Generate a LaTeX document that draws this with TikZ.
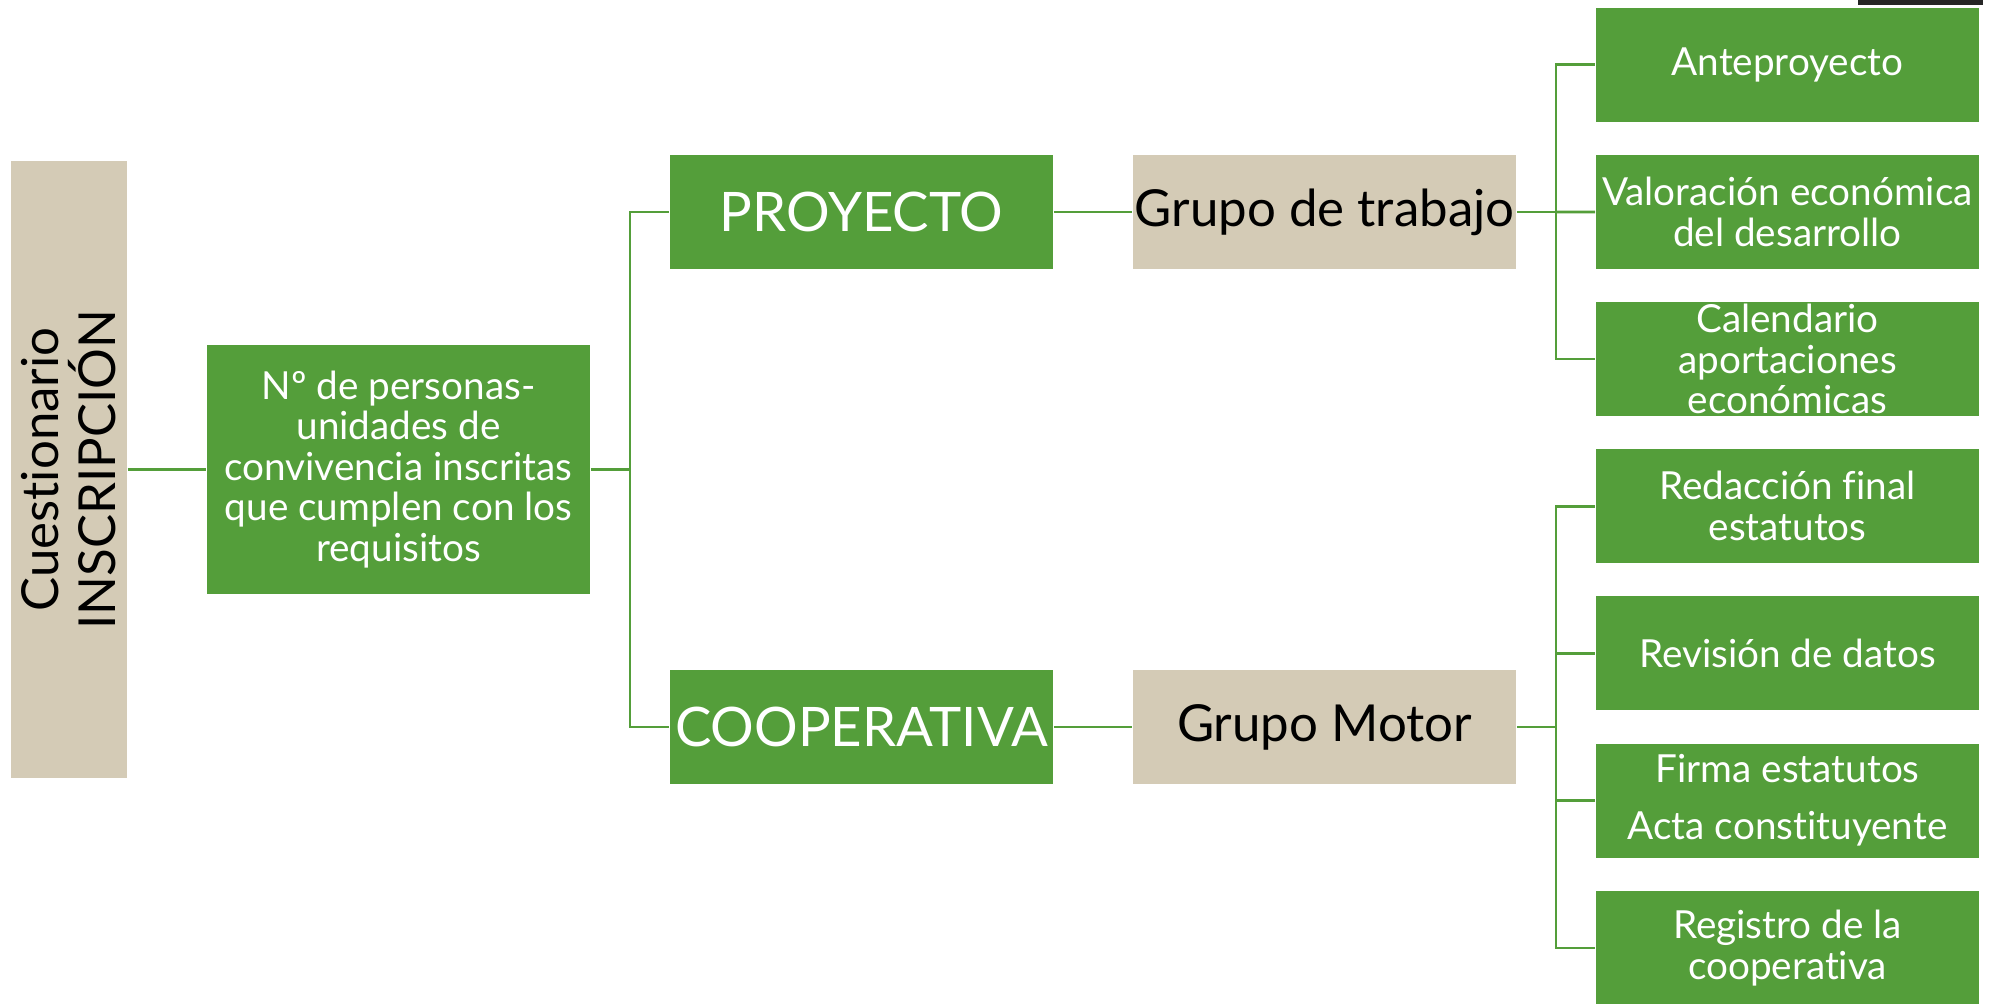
\documentclass[tikz,border=0pt]{standalone}
\usepackage{fontspec}
\setmainfont{Lato}[Ligatures=NoCommon]
\usepackage{tikz}
\usepackage{xcolor}
\definecolor{leaf}{RGB}{84,158,58}
\definecolor{sand}{RGB}{212,203,182}
\tikzset{
    green-box/.style = {fill=leaf, text=white, rectangle, inner sep=0pt, align=center, minimum width=3.83cm, minimum height=1.14cm},
    sand-box/.style = {fill=sand, text=black, rectangle, inner sep=0pt, align=center, minimum width=3.83cm, minimum height=1.14cm},
    big-text/.style = {font=\fontsize{14.5}{16}\selectfont},
    caps-text/.style = {font=\fontsize{15.5}{17}\selectfont},
    task-text/.style = {font=\fontsize{11}{11.6}\selectfont},
    link/.style = {draw=leaf, line width=0.75pt},
}
\begin{document}
\begin{tikzpicture}[x=0.01cm, y=-0.01cm]
\useasboundingbox (0,0) rectangle (1989,1003);
\fill[black!85] (1858,0) rectangle (1983,4.7);

\node[sand-box, minimum width=1.16cm, minimum height=6.17cm] (quest) at (69,469.5) {\rotatebox{90}{\parbox{4cm}{\centering\fontsize{14.5}{16.2}\selectfont\lineskiplimit=-10pt Cuestionario\\INSCRIPCIÓN}}};
\node[green-box, minimum height=2.49cm, font=\fontsize{11}{11.5}\selectfont] (count) at (398.5,469.5) {Nº de personas-\\unidades de\\convivencia inscritas\\que cumplen con los\\requisitos};

\node[green-box, caps-text] (proy) at (861.5,212) {PROYECTO};
\node[green-box, caps-text] (coop) at (861.5,727) {COOPERATIVA};
\node[sand-box, big-text] (gtrab) at (1324.5,212) {Grupo de trabajo};
\node[sand-box, big-text] (gmotor) at (1324.5,727) {Grupo Motor};

\node[green-box, task-text] (ante) at (1787.5,64.6) {Anteproyecto};
\node[green-box, task-text] (valor) at (1787.5,211.8) {Valoración económica\\del desarrollo};
\node[green-box, task-text] (calen) at (1787.5,359) {Calendario\\aportaciones\\económicas};
\node[green-box, task-text] (redac) at (1787.5,506.2) {Redacción final\\estatutos};
\node[green-box, task-text] (revis) at (1787.5,653.4) {Revisión de datos};
\node[green-box, task-text] (firma) at (1787.5,800.6) {Firma estatutos\\[4.6pt]Acta constituyente};
\node[green-box, task-text] (regis) at (1787.5,947.8) {Registro de la\\cooperativa};

\coordinate (fork-a) at (630,469.5);
\coordinate (fork-b) at (1556,212);
\coordinate (fork-c) at (1556,727);

\draw[link] (quest) -- (count);
\draw[link] (count) -- (fork-a);
\draw[link] (fork-a) |- (proy);
\draw[link] (fork-a) |- (coop);
\draw[link] (proy) -- (gtrab);
\draw[link] (coop) -- (gmotor);

\draw[link] (gtrab) -- (fork-b);
\draw[link] (fork-b) |- (ante);
\draw[link] (fork-b) -- (valor);
\draw[link] (fork-b) |- (calen);

\draw[link] (gmotor) -- (fork-c);
\draw[link] (fork-c) |- (redac);
\draw[link] (fork-c) |- (revis);
\draw[link] (fork-c) |- (firma);
\draw[link] (fork-c) |- (regis);
\end{tikzpicture}
\end{document}
